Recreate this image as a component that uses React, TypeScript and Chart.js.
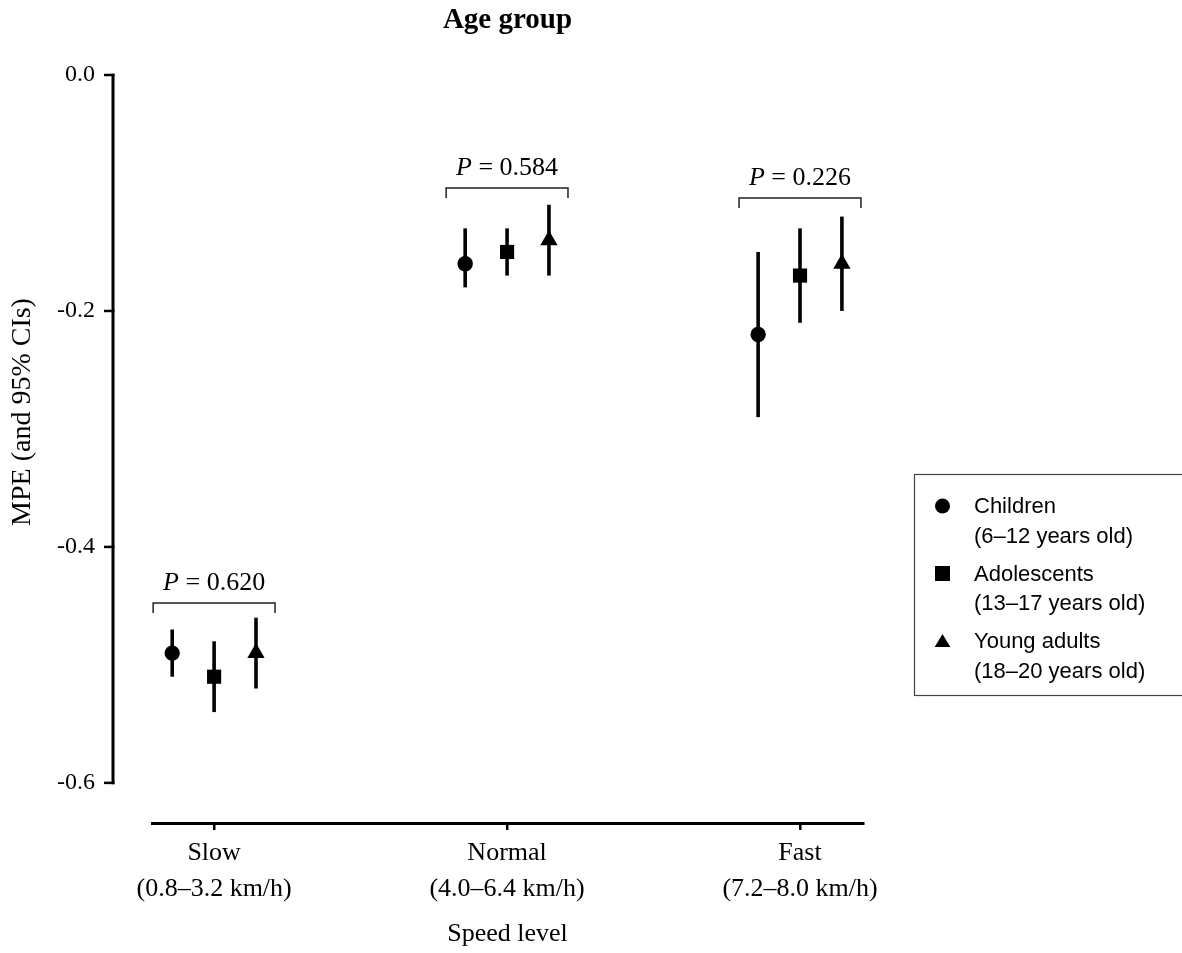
import React, { useEffect, useRef } from "react";
import { Chart, registerables } from "chart.js";

Chart.register(...registerables);

// ---------- data ----------
const speedLevels: string[][] = [
  ["Slow", "(0.8–3.2 km/h)"],
  ["Normal", "(4.0–6.4 km/h)"],
  ["Fast", "(7.2–8.0 km/h)"],
];
const groupNames = ["Children", "Adolescents", "Young adults"];
const groupAges = ["(6–12 years old)", "(13–17 years old)", "(18–20 years old)"];

const childrenMean = [-0.49, -0.16, -0.22];
const childrenLow = [-0.51, -0.18, -0.29];
const childrenHigh = [-0.47, -0.13, -0.15];

const adolescentsMean = [-0.51, -0.15, -0.17];
const adolescentsLow = [-0.54, -0.17, -0.21];
const adolescentsHigh = [-0.48, -0.13, -0.13];

const youngAdultsMean = [-0.49, -0.14, -0.16];
const youngAdultsLow = [-0.52, -0.17, -0.2];
const youngAdultsHigh = [-0.46, -0.11, -0.12];

const pValues = ["0.620", "0.584", "0.226"];
const bracketLevels = [-0.4475, -0.0958, -0.1042];
const yTicks = [0, -0.2, -0.4, -0.6];

// ---------- styling ----------
const SERIF = '"Liberation Serif", "Times New Roman", Times, serif';
const SANS = '"Liberation Sans", Arial, Helvetica, sans-serif';
const dodge = [-0.143, 0, 0.143];
const pointStyles = ["circle", "rect", "triangle"];
const pointRadii = [7.7, 10, 10];

const series = [
  { mean: childrenMean, low: childrenLow, high: childrenHigh },
  { mean: adolescentsMean, low: adolescentsLow, high: adolescentsHigh },
  { mean: youngAdultsMean, low: youngAdultsLow, high: youngAdultsHigh },
];

const errorBarPlugin = {
  id: "errorBars",
  beforeDatasetsDraw(chart: any) {
    const { ctx, scales } = chart;
    const x = scales.x;
    const y = scales.y;
    ctx.save();
    ctx.strokeStyle = "#000";
    ctx.lineWidth = 3.6;
    ctx.lineCap = "butt";
    series.forEach((s, si) => {
      s.low.forEach((lo, i) => {
        const px = x.getPixelForValue(i + dodge[si]);
        ctx.beginPath();
        ctx.moveTo(px, y.getPixelForValue(lo));
        ctx.lineTo(px, y.getPixelForValue(s.high[i]));
        ctx.stroke();
      });
    });
    ctx.restore();
  },
};

const decorPlugin = {
  id: "decor",
  afterDraw(chart: any) {
    const { ctx, chartArea, scales } = chart;
    const x = scales.x;
    const y = scales.y;

    // offset y axis
    const ax = chartArea.left - 39;
    const top = y.getPixelForValue(yTicks[0]);
    const bottom = y.getPixelForValue(yTicks[yTicks.length - 1]);
    ctx.save();
    ctx.strokeStyle = "#000";
    ctx.lineWidth = 3;
    ctx.beginPath();
    ctx.moveTo(ax, top - 1.25);
    ctx.lineTo(ax, bottom + 1.25);
    ctx.stroke();
    ctx.lineWidth = 2.5;
    yTicks.forEach((v) => {
      const py = y.getPixelForValue(v);
      ctx.beginPath();
      ctx.moveTo(ax - 9, py);
      ctx.lineTo(ax + 1.5, py);
      ctx.stroke();
    });

    // y axis title
    ctx.save();
    ctx.translate(23, 412);
    ctx.rotate(-Math.PI / 2);
    ctx.font = `28px ${SERIF}`;
    ctx.fillStyle = "#000";
    ctx.textAlign = "center";
    ctx.textBaseline = "middle";
    ctx.fillText("MPE (and 95% CIs)", 0, 0);
    ctx.restore();

    // brackets with P values
    ctx.strokeStyle = "#222";
    ctx.lineWidth = 1.5;
    bracketLevels.forEach((lvl, i) => {
      const x1 = x.getPixelForValue(i - 0.208);
      const x2 = x.getPixelForValue(i + 0.208);
      const py = y.getPixelForValue(lvl);
      ctx.beginPath();
      ctx.moveTo(x1, py + 10);
      ctx.lineTo(x1, py);
      ctx.lineTo(x2, py);
      ctx.lineTo(x2, py + 10);
      ctx.stroke();

      const cx = x.getPixelForValue(i);
      const italic = `italic 26px ${SERIF}`;
      const regular = `26px ${SERIF}`;
      ctx.font = italic;
      const wP = ctx.measureText("P").width;
      const rest = " = " + pValues[i];
      ctx.font = regular;
      const wR = ctx.measureText(rest).width;
      const start = cx - (wP + wR) / 2;
      ctx.fillStyle = "#000";
      ctx.textAlign = "left";
      ctx.textBaseline = "alphabetic";
      ctx.font = italic;
      ctx.fillText("P", start, py - 13);
      ctx.font = regular;
      ctx.fillText(rest, start + wP, py - 13);
    });

    // legend
    const lx = 914.5;
    const ly = 474.5;
    ctx.strokeStyle = "#444";
    ctx.lineWidth = 1.2;
    ctx.strokeRect(lx, ly, 320, 221);
    ctx.fillStyle = "#000";
    ctx.font = `22px ${SANS}`;
    ctx.textAlign = "left";
    ctx.textBaseline = "alphabetic";
    groupNames.forEach((name, g) => {
      const b1 = 513 + g * 67.5;
      const mx = 942.5;
      const my = b1 - 7;
      ctx.beginPath();
      if (g === 0) {
        ctx.arc(mx, my, 7.5, 0, Math.PI * 2);
      } else if (g === 1) {
        ctx.rect(mx - 7.5, my - 7.5, 15, 15);
      } else {
        ctx.moveTo(mx, my - 7);
        ctx.lineTo(mx + 7.8, my + 6);
        ctx.lineTo(mx - 7.8, my + 6);
        ctx.closePath();
      }
      ctx.fill();
      ctx.fillText(name, 974, b1);
      ctx.fillText(groupAges[g], 974, b1 + 29.5);
    });
    ctx.restore();
  },
};

export default function App() {
  const canvasRef = useRef<HTMLCanvasElement | null>(null);

  useEffect(() => {
    if (!canvasRef.current) return;
    const datasets = series.map((s, si) => ({
      label: groupNames[si],
      data: s.mean.map((m, i) => ({ x: i + dodge[si], y: m })),
      pointStyle: pointStyles[si],
      pointRadius: pointRadii[si],
      pointHoverRadius: pointRadii[si],
      backgroundColor: "#000",
      borderColor: "#000",
      borderWidth: 0,
      showLine: false,
    }));

    const chart = new Chart(canvasRef.current, {
      type: "scatter",
      data: { datasets } as any,
      options: {
        animation: false,
        responsive: false,
        devicePixelRatio: 1,
        layout: { padding: { left: 0, right: 319, top: 0, bottom: 0 } },
        plugins: {
          legend: { display: false },
          tooltip: { enabled: false },
          title: {
            display: true,
            text: "Age group",
            fullSize: false,
            color: "#000",
            font: { family: SERIF, size: 29, weight: "bold", lineHeight: 1.0 },
            padding: { top: 6, bottom: 40 },
          },
        },
        scales: {
          x: {
            type: "linear",
            min: -0.212,
            max: 2.215,
            afterBuildTicks: (s: any) => {
              s.ticks = speedLevels.map((_, i) => ({ value: i }));
            },
            afterFit: (s: any) => {
              s.height = 130;
            },
            ticks: {
              autoSkip: false,
              maxRotation: 0,
              minRotation: 0,
              padding: 5,
              color: "#000",
              font: { family: SERIF, size: 26, lineHeight: 1.38 },
              callback: (v: any) => speedLevels[Math.round(Number(v))] ?? "",
            },
            grid: {
              display: true,
              drawOnChartArea: false,
              drawTicks: true,
              tickLength: 7,
              color: "#000",
              lineWidth: 2.5,
            },
            border: { display: true, color: "#000", width: 3 },
            title: {
              display: true,
              text: "Speed level",
              color: "#000",
              font: { family: SERIF, size: 26, lineHeight: 1.2 },
              padding: { top: 0, bottom: 3 },
            },
          },
          y: {
            type: "linear",
            min: -0.634,
            max: 0,
            afterBuildTicks: (s: any) => {
              s.ticks = yTicks.map((v) => ({ value: v }));
            },
            afterFit: (s: any) => {
              s.width = 152;
            },
            ticks: {
              padding: 57,
              color: "#000",
              font: { family: SERIF, size: 24 },
              callback: (v: any) => Number(v).toFixed(1),
            },
            grid: { display: false, drawTicks: false },
            border: { display: false },
          },
        },
      } as any,
      plugins: [errorBarPlugin, decorPlugin],
    });
    return () => chart.destroy();
  }, []);

  return (
    <div style={{ position: "fixed", left: 0, top: 0, width: 1182, height: 953, background: "#fff" }}>
      <canvas ref={canvasRef} width={1182} height={953} style={{ display: "block" }} />
    </div>
  );
}
